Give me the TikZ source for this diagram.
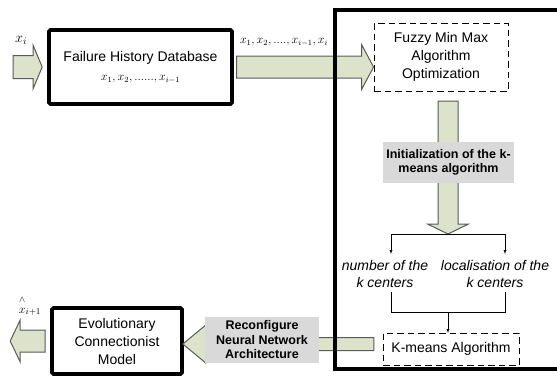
\documentclass[tikz,border=0pt]{standalone}
\usepackage[]{amsmath}
\usepackage{fontspec}
\setmainfont{Liberation Sans}
\usetikzlibrary{positioning,calc}

\definecolor{arrowfill}{HTML}{DDE3CB}
\definecolor{arrowline}{HTML}{5A5A5A}
\definecolor{labelgray}{HTML}{D9D9D9}

\tikzset{
  thickbox/.style={draw, line width=3.6pt, rounded corners=1.5pt, align=center,
    font=\fontsize{14}{18}\selectfont},
  dashbox/.style={draw, line width=0.9pt, dash pattern=on 6.5pt off 4pt, align=center,
    font=\fontsize{14}{18}\selectfont},
  graybox/.style={fill=labelgray, align=center, font=\bfseries\fontsize{12.5}{14.5}\selectfont},
  fat/.style={fill=arrowfill, draw=arrowline, line width=1pt},
}

% #1 tip, #2 rotation, #3 length, #4 shaft half width, #5 head half width, #6 head length
\newcommand{\fatarrow}[6]{%
  \draw[fat, shift={(#1)}, rotate=#2] (0,0) -- (-#6,-#5) -- (-#6,-#4) -- (-#3,-#4)
    -- (-#3,#4) -- (-#6,#4) -- (-#6,#5) -- cycle;}

\begin{document}
\begin{tikzpicture}[x=1pt,y=-1pt]
\useasboundingbox (0,0) rectangle (557,381);
\clip (0,0) rectangle (557,381);

% blocks
\node[thickbox, minimum width=183pt, minimum height=74pt] (db) at (140.5,67)
  {Failure History Database\\[1pt]{\fontsize{12}{14}\selectfont $x_1,x_2,......,x_{i-1}$}};
\node[dashbox, minimum width=134pt, minimum height=68pt] (fuzzy) at (441,57)
  {Fuzzy Min Max\\Algorithm\\Optimization};
\node[dashbox, minimum width=136pt, minimum height=32pt] (kmeans) at (451,349)
  {K-means Algorithm};
\node[thickbox, minimum width=130pt, minimum height=66pt] (ecm) at (117,341)
  {Evolutionary\\Connectionist\\Model};
\coordinate (split) at (448,234);

% fat arrows
\fatarrow{$(db.west)+(-5,0)$}{0}{29}{11.5}{21.5}{9}
\fatarrow{fuzzy.west |- db.east}{0}{137}{11}{22.5}{12}
\fatarrow{split}{-90}{133}{10}{20.5}{10}
\fatarrow{$(ecm.east)+(-1,3)$}{180}{191}{6.5}{19}{23}
\fatarrow{$(ecm.west)+(-40,0)$}{180}{35}{11}{21}{10}

% labels on the arrows
\node[graybox, minimum width=129pt, minimum height=41pt] (init) at (448.5,162.5)
  {Initialization of the k-\\means algorithm};
\node[graybox, minimum width=114pt, minimum height=46pt] (reconf) at (262,340)
  {Reconfigure\\Neural Network\\Architecture};
\node (xin) at (21,40) {\fontsize{14}{16}\selectfont $x_i$};
\node (seq) at (284,42) {\fontsize{12}{14}\selectfont $x_1,x_2,....,x_{i-1},x_i$};
\node (xout) at (30,306) {\fontsize{13}{15}\selectfont
  $\overset{\raisebox{3pt}{$\scriptstyle\wedge$}}{x}_{i+1}$};

% k centers
\node[align=center, font=\itshape\fontsize{14}{17}\selectfont] (num) at (385,273.5)
  {number of the\\k centers};
\node[align=center, font=\itshape\fontsize{14}{17}\selectfont] (loc) at (495,273.5)
  {localisation of the\\k centers};

\draw[-latex] (split) -| (391,254);
\draw[-latex] (split) -| (505,254);
\draw (391,292) |- (505,312) -- (505,292);
\draw[-latex] (448,312) -- (448,333);

% frame
\draw[line width=4pt] (335,10) rectangle (600,369);
\end{tikzpicture}
\end{document}
